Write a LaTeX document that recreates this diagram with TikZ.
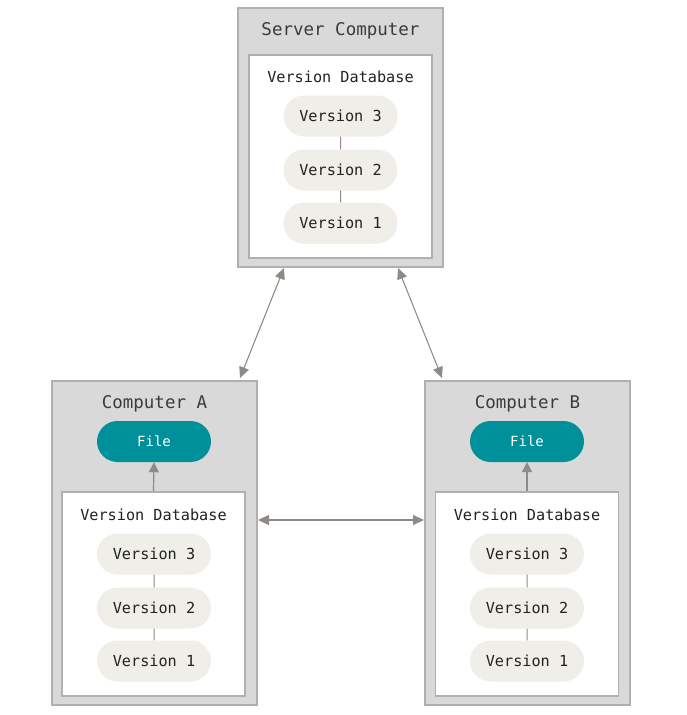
\documentclass[tikz,border=0pt]{standalone}
\usepackage{fontspec}
\setmonofont{DejaVu Sans Mono}
\usetikzlibrary{arrows.meta,shapes.misc}
\definecolor{boxgray}{HTML}{D9D9D9}
\definecolor{boxline}{HTML}{B0B0B0}
\definecolor{pillfill}{HTML}{EFEEE8}
\definecolor{teal}{HTML}{00909A}
\definecolor{arrowgray}{HTML}{8F8A85}
\definecolor{txt}{HTML}{222222}
\definecolor{titletxt}{HTML}{3F3A38}
\begin{document}
\begin{tikzpicture}[x=1pt,y=-1pt,
  computer/.style={draw=boxline,fill=boxgray,line width=1.2pt},
  database/.style={draw=boxline,fill=white,line width=1.2pt},
  title/.style={font=\ttfamily\fontsize{17.5}{20}\selectfont,text=titletxt},
  dbtitle/.style={font=\ttfamily\fontsize{15.2}{18}\selectfont,text=txt},
  version/.style={rounded rectangle,fill=pillfill,minimum width=114pt,minimum height=41pt,
    font=\ttfamily\fontsize{15.2}{18}\selectfont,text=txt,inner sep=0pt},
  filepill/.style={rounded rectangle,fill=teal,minimum width=114pt,minimum height=41pt,
    font=\ttfamily\fontsize{14}{17}\selectfont,text=white,inner sep=0pt},
  link/.style={draw=arrowgray,line width=1pt},
  tip/.style={arrowgray,line width=1.2pt,-{Triangle[length=10pt,width=10pt]}},
  both/.style={arrowgray,line width=1.1pt,{Triangle[length=11pt,width=10pt]}-{Triangle[length=11pt,width=10pt]}}
]
\useasboundingbox (0,0) rectangle (687,715);

% Server computer
\node[computer,minimum width=205pt,minimum height=259pt,inner sep=0pt] (srv) at (340.5,137.5) {};
\node[title] (srvt) at (340.5,31) {Server Computer};
\node[database,minimum width=183pt,minimum height=203pt,inner sep=0pt] (srvdb) at (340.5,156.5) {};
\node[dbtitle] (srvdbt) at (340.5,77) {Version Database};
\node[version] (s3) at (340.5,116) {Version 3};
\node[version] (s2) at (340.5,170) {Version 2};
\node[version] (s1) at (340.5,223) {Version 1};
\draw[link] (s3) -- (s2);
\draw[link] (s2) -- (s1);

% Computer A
\node[computer,minimum width=205pt,minimum height=324pt,inner sep=0pt] (ca) at (154.5,543) {};
\node[title] (cat) at (154.5,404) {Computer A};
\node[filepill] (fa) at (154,441.5) {File};
\node[database,minimum width=183pt,minimum height=204pt,inner sep=0pt] (adb) at (153.5,594) {};
\node[dbtitle] (adbt) at (153.5,515) {Version Database};
\node[version] (a3) at (154,554) {Version 3};
\node[version] (a2) at (154,608) {Version 2};
\node[version] (a1) at (154,661) {Version 1};
\draw[link] (a3) -- (a2);
\draw[link] (a2) -- (a1);
\draw[tip] (adb.north) -- (fa.south);

% Computer B
\node[computer,minimum width=205pt,minimum height=324pt,inner sep=0pt] (cb) at (527.5,543) {};
\node[title] (cbt) at (527.5,404) {Computer B};
\node[filepill] (fb) at (527,441.5) {File};
\node[database,minimum width=183pt,minimum height=204pt,inner sep=0pt] (bdb) at (527,594) {};
\node[dbtitle] (bdbt) at (527,515) {Version Database};
\node[version] (b3) at (527,554) {Version 3};
\node[version] (b2) at (527,608) {Version 2};
\node[version] (b1) at (527,661) {Version 1};
\draw[link] (b3) -- (b2);
\draw[link] (b2) -- (b1);
\draw[tip] (bdb.north) -- (fb.south);

% Connections between computers
\coordinate (sa) at (284,268);
\coordinate (as) at (240,378);
\coordinate (sb) at (398,268);
\coordinate (bs) at (442,378);
\coordinate (ab) at (258,520);
\coordinate (ba) at (424,520);
\draw[both] (sa) -- (as);
\draw[both] (sb) -- (bs);
\draw[both] (ab) -- (ba);
\end{tikzpicture}
\end{document}
